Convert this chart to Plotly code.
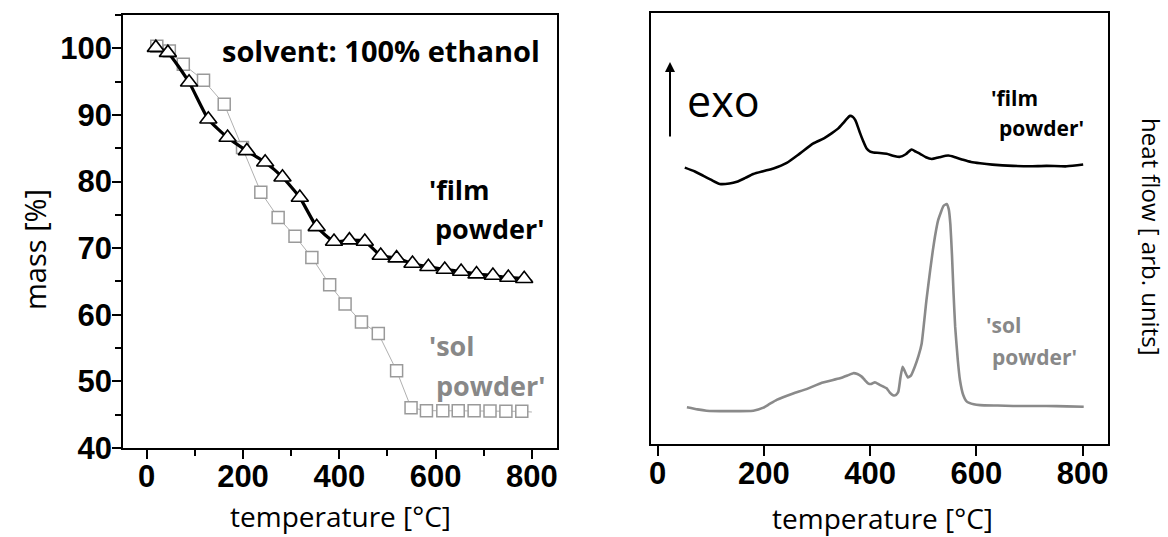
import plotly.graph_objects as go

W, H = 1168, 537

# --- TG (mass loss) data -------------------------------------------------
film_T = [19, 44, 88, 128, 168, 208, 246, 282, 318, 353, 389, 421, 453,
          486, 519, 552, 585, 619, 653, 685, 719, 751, 784]
film_mass = [100.1, 99.35, 94.9, 89.35, 86.6, 84.6, 82.9, 80.65, 77.6, 73.2,
             71.0, 71.2, 71.0, 68.9, 68.5, 67.7, 67.2, 66.8, 66.5, 66.1,
             65.9, 65.6, 65.4]
film_curve_T = film_T + [800]
film_curve_mass = film_mass + [65.0]

sol_T = [21, 47, 76, 118, 161, 199, 237, 273, 308, 343, 380, 412, 446,
         481, 519, 549, 581, 615, 647, 680, 713, 746, 779]
sol_mass = [100.3, 99.6, 97.6, 95.2, 91.6, 85.1, 78.4, 74.6, 71.8, 68.6,
            64.5, 61.6, 58.9, 57.2, 51.6, 46.05, 45.6, 45.6, 45.6, 45.6,
            45.55, 45.5, 45.5]
sol_curve_T = sol_T + [800]
sol_curve_mass = sol_mass + [45.4]

# --- DTA (heat flow) data, arbitrary units --------------------------------
film_dta_T = [51, 70, 86, 100, 117, 135, 149, 165, 180, 200, 218, 243, 268,
              293, 313, 328, 340, 349, 356, 362, 367, 372, 377, 381, 387, 393,
              400, 406, 418, 431, 445, 456, 467, 478, 486, 494, 505, 516, 530,
              547, 560, 575, 590, 607, 630, 669, 700, 732, 770, 801]
film_dta_v = [64.2, 63.3, 62.3, 61.4, 60.4, 60.5, 60.9, 61.8, 62.7, 63.4,
              64.0, 65.3, 67.5, 69.8, 71.0, 72.2, 73.3, 74.5, 75.5, 76.2,
              76.0, 75.2, 73.6, 72.2, 70.3, 68.7, 67.9, 67.7, 67.6, 67.4,
              66.9, 66.7, 67.3, 68.4, 67.9, 67.4, 66.6, 66.2, 66.6, 67.0,
              66.6, 66.0, 65.5, 65.2, 64.9, 64.6, 64.5, 64.6, 64.5, 64.9]

sol_dta_T = [55, 75, 92, 130, 180, 199, 210, 224, 255, 280, 309, 343, 358,
             368, 376, 384, 390, 396, 402, 409, 418, 431, 437, 443, 448, 453,
             457, 461, 465, 471, 477, 484, 491, 497, 506, 513, 518, 522, 528,
             538, 544, 548, 551, 554, 557, 560, 565, 569, 575, 582, 595, 607,
             640, 669, 700, 732, 770, 802]
sol_dta_v = [8.6, 8.1, 7.8, 7.7, 7.8, 8.5, 9.3, 10.3, 11.8, 12.8, 14.3, 15.3,
             16.0, 16.5, 16.3, 15.7, 14.9, 14.15, 14.0, 14.4, 13.8, 13.0,
             12.0, 11.4, 11.4, 12.2, 15.5, 18.0, 17.0, 15.5, 16.0, 18.0,
             20.5, 23.4, 33.5, 40.4, 45.0, 48.2, 52.0, 55.3, 55.75, 54.5,
             51.0, 44.0, 35.0, 27.3, 19.5, 14.9, 11.5, 9.9, 9.3, 9.1, 9.0,
             8.9, 8.9, 8.9, 8.8, 8.7]

BLACK = "#000000"
GREY_TXT = "#888888"
GREY_SQ = "#9a9a9a"
GREY_DTA = "#8a8a8a"

TICK_FONT = dict(family="Liberation Sans", size=31, color=BLACK, weight="bold")
LABEL_FONT = "Open Sans"


def px(x):
    return x / W


def py(y):
    return 1 - y / H


fig = go.Figure()

# TG curves
fig.add_trace(go.Scatter(x=sol_curve_T, y=sol_curve_mass, mode="lines",
                         line=dict(color="#b0b0b0", width=1),
                         xaxis="x", yaxis="y", showlegend=False))
fig.add_trace(go.Scatter(x=sol_T, y=sol_mass, mode="markers",
                         marker=dict(symbol="square", size=12, color="white",
                                     line=dict(color=GREY_SQ, width=1.5)),
                         xaxis="x", yaxis="y", showlegend=False))
fig.add_trace(go.Scatter(x=film_curve_T, y=film_curve_mass, mode="lines",
                         line=dict(color=BLACK, width=3.2, shape="spline",
                                   smoothing=0.5),
                         xaxis="x", yaxis="y", showlegend=False))
fig.add_trace(go.Scatter(x=film_T, y=film_mass, mode="markers",
                         marker=dict(symbol="triangle-up", size=15,
                                     color="white",
                                     line=dict(color=BLACK, width=1.6)),
                         xaxis="x", yaxis="y", showlegend=False))

# DTA curves
fig.add_trace(go.Scatter(x=film_dta_T, y=film_dta_v, mode="lines",
                         line=dict(color=BLACK, width=2.6, shape="spline",
                                   smoothing=0.6),
                         xaxis="x2", yaxis="y2", showlegend=False))
fig.add_trace(go.Scatter(x=sol_dta_T, y=sol_dta_v, mode="lines",
                         line=dict(color=GREY_DTA, width=2.6, shape="spline",
                                   smoothing=0.4),
                         xaxis="x2", yaxis="y2", showlegend=False))

axis_common = dict(showgrid=False, zeroline=False, showline=True,
                   linecolor=BLACK, linewidth=2, mirror=True,
                   ticks="outside", tickcolor=BLACK, tickwidth=2,
                   tickfont=TICK_FONT, automargin=False)

fig.update_layout(
    template="none",
    width=W, height=H, autosize=False,
    margin=dict(l=0, r=0, t=0, b=0, pad=0),
    paper_bgcolor="white", plot_bgcolor="white",
    xaxis=dict(axis_common, domain=[px(123.3), px(556.7)],
               range=[-48.6, 851.5], tick0=0, dtick=200, ticklen=9,
               ticklabelstandoff=-9,
               minor=dict(dtick=100, ticks="outside", ticklen=6,
                          tickwidth=2, tickcolor=BLACK),
               anchor="y"),
    yaxis=dict(axis_common, domain=[py(448), py(15)],
               range=[40, 105], tick0=40, dtick=10, ticklen=9,
               ticklabelstandoff=-6,
               minor=dict(dtick=5, ticks="outside", ticklen=6,
                          tickwidth=2, tickcolor=BLACK),
               anchor="x"),
    xaxis2=dict(axis_common, domain=[px(651), px(1108.3)],
                range=[-12.6, 848.3], tick0=0, dtick=200, ticklen=10,
                ticklabelstandoff=-10,
                anchor="y2"),
    yaxis2=dict(axis_common, domain=[py(444.3), py(13.3)],
                range=[0, 100], ticks="", showticklabels=False,
                anchor="x2"),
)

ann = []


def text(x, y, s, size, color=BLACK, weight="bold", family=LABEL_FONT,
         xanchor="left", yanchor="middle", angle=0):
    ann.append(dict(x=px(x), y=py(y), xref="paper", yref="paper", text=s,
                    showarrow=False, xanchor=xanchor, yanchor=yanchor,
                    textangle=angle, borderpad=0,
                    font=dict(family=family, size=size, color=color,
                              weight=weight)))


# axis titles
text(341, 516, "temperature [°C]", 28, weight=400, xanchor="center")
text(882, 518, "temperature [°C]", 28, weight=400, xanchor="center")
text(34, 250, "mass [%]", 29, weight=400, xanchor="center", angle=-90)
text(1151, 237, "heat flow [ arb. units]", 24, weight=400,
     xanchor="center", angle=90)

# left panel labels
text(221, 50, "solvent: 100% ethanol", 29)
text(428, 190, "'film", 27)
text(434, 228, "powder'", 27)
text(428, 345, "'sol", 27, color=GREY_TXT)
text(435, 385, "powder'", 27, color=GREY_TXT)

# right panel labels
text(990, 98, "'film", 21)
text(998, 128, "powder'", 21)
text(985, 325, "'sol", 21, color=GREY_TXT)
text(991, 357, "powder'", 21, color=GREY_TXT)
text(686, 100, "exo", 43, weight=400)

# exo arrow
ann.append(dict(x=px(670), y=py(62), xref="paper", yref="paper",
                ax=0, ay=76, axref="pixel", ayref="pixel", text="",
                showarrow=True, arrowhead=2, arrowsize=1, arrowwidth=2,
                arrowcolor=BLACK))

fig.update_layout(annotations=ann)

fig.write_html("out.html")
